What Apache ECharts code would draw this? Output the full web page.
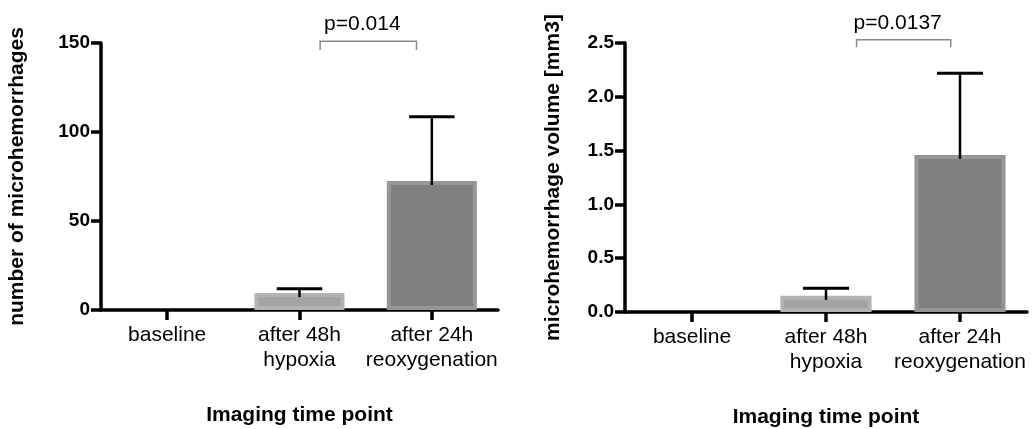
<!DOCTYPE html>
<html>
<head>
<meta charset="utf-8">
<script src="https://cdn.jsdelivr.net/npm/echarts@6/dist/echarts.min.js"></script>
<style>
html,body{margin:0;padding:0;background:#fff;}
#c{width:1034px;height:429px;}
</style>
</head>
<body>
<div id="c"></div>
<script>
// ---- data ----
const categories = ['baseline', 'after 48h\nhypoxia', 'after 24h\nreoxygenation'];
const countMean = [0, 9.5, 72.5];
const countUpper = [0, 12, 108.5];
const volumeMean = [0, 0.15, 1.46];
const volumeUpper = [0, 0.22, 2.22];
const countTicks = [0, 50, 100, 150];
const volumeTicks = [0.0, 0.5, 1.0, 1.5, 2.0, 2.5];
const pLabels = ['p=0.014', 'p=0.0137'];
const bracketLevel = [151.0, 2.53];
const bracketDrop = [5, 0.07];
const yTitles = ['number of microhemorrhages', 'microhemorrhage volume [mm3]'];
const xTitle = 'Imaging time point';

// ---- styles ----
const FONT = '"Liberation Sans", Arial, Helvetica, sans-serif';
const barFill = ['#a3a3a6', '#a3a3a6', '#808080'];
const barBorder = ['#b3b3b3', '#b3b3b3', '#969696'];
const bracketOffsets = [[0.156, -0.116], [0.228, -0.069]];
const grids = [
  {left: 101, top: 43, width: 397, height: 267, outerBoundsMode: 'none', containLabel: false},
  {left: 625, top: 43, width: 402, height: 269, outerBoundsMode: 'none', containLabel: false}
];

function axisX(i) {
  return {
    type: 'category', gridIndex: i, data: categories,
    axisLine: {lineStyle: {color: '#000', width: 3.5}},
    axisTick: {show: true, alignWithLabel: true, length: 10, lineStyle: {color: '#000', width: 3.5}},
    axisLabel: {color: '#000', fontFamily: FONT, fontSize: 21, lineHeight: 25, margin: 13, interval: 0},
    name: xTitle, nameLocation: 'middle', nameGap: 95,
    nameTextStyle: {color: '#000', fontFamily: FONT, fontSize: 21, fontWeight: 'bold'}
  };
}
function axisY(i, ticks, fmt, gap) {
  return {
    type: 'value', gridIndex: i,
    min: ticks[0], max: ticks[ticks.length - 1], interval: ticks[1] - ticks[0],
    splitLine: {show: false},
    axisLine: {show: true, lineStyle: {color: '#000', width: 3.5}},
    axisTick: {show: true, length: 10, lineStyle: {color: '#000', width: 3.5}},
    axisLabel: {color: '#000', fontFamily: FONT, fontSize: 19, fontWeight: 'bold', margin: 11, formatter: fmt},
    name: yTitles[i], nameLocation: 'middle', nameGap: gap,
    nameTextStyle: {color: '#000', fontFamily: FONT, fontSize: 21, fontWeight: 'bold'}
  };
}

function barSeries(i, vals) {
  return {
    type: 'bar', xAxisIndex: i, yAxisIndex: i, barWidth: '68%', silent: true,
    data: vals.map((v, k) => ({value: v, itemStyle: {color: barFill[k], borderColor: barBorder[k], borderWidth: v > 0 ? 4 : 0}})),
    z: 2
  };
}
function errSeries(i, mean, upper) {
  return {
    type: 'custom', xAxisIndex: i, yAxisIndex: i, silent: true, z: 3,
    data: mean.map((m, k) => [k, m, upper[k]]).filter(d => d[2] > d[1]),
    renderItem: function (params, api) {
      const lo = api.coord([api.value(0), api.value(1)]);
      const hi = api.coord([api.value(0), api.value(2)]);
      const band = api.size([1, 0])[0];
      const hw = band * 0.172;
      return {type: 'group', children: [
        {type: 'line', shape: {x1: lo[0], y1: lo[1] + 4, x2: hi[0], y2: hi[1]}, style: {stroke: '#000', lineWidth: 2.5}},
        {type: 'line', shape: {x1: hi[0] - hw, y1: hi[1], x2: hi[0] + hw, y2: hi[1]}, style: {stroke: '#000', lineWidth: 3}}
      ]};
    }
  };
}
function bracketSeries(i) {
  return {
    type: 'custom', xAxisIndex: i, yAxisIndex: i, silent: true, z: 4,
    clip: false,
    data: [[1, bracketLevel[i], bracketLevel[i] - bracketDrop[i]]],
    renderItem: function (params, api) {
      const band = api.size([1, 0])[0];
      const a = api.coord([1, api.value(1)]);
      const b = api.coord([2, api.value(1)]);
      const d = api.coord([1, api.value(2)]);
      const x1 = a[0] + bracketOffsets[i][0] * band;
      const x2 = b[0] + bracketOffsets[i][1] * band;
      const y = a[1], y2 = d[1];
      return {type: 'group', children: [
        {type: 'polyline', shape: {points: [[x1, y2], [x1, y], [x2, y], [x2, y2]]}, style: {stroke: '#8a8a8a', lineWidth: 1.5, fill: null}},
        {type: 'text', style: {text: pLabels[i], x: (x1 + x2) / 2 - 6, y: y - 17, align: 'center', verticalAlign: 'middle', fill: '#000', font: '21px ' + FONT}}
      ]};
    }
  };
}

const chart = echarts.init(document.getElementById('c'), null, {renderer: 'canvas'});
chart.setOption({
  animation: false,
  backgroundColor: '#fff',
  grid: grids,
  xAxis: [axisX(0), axisX(1)],
  yAxis: [
    axisY(0, countTicks, v => String(v), 73),
    axisY(1, volumeTicks, v => v.toFixed(1), 61)
  ],
  series: [
    barSeries(0, countMean), errSeries(0, countMean, countUpper), bracketSeries(0),
    barSeries(1, volumeMean), errSeries(1, volumeMean, volumeUpper), bracketSeries(1)
  ]
});
</script>
</body>
</html>
